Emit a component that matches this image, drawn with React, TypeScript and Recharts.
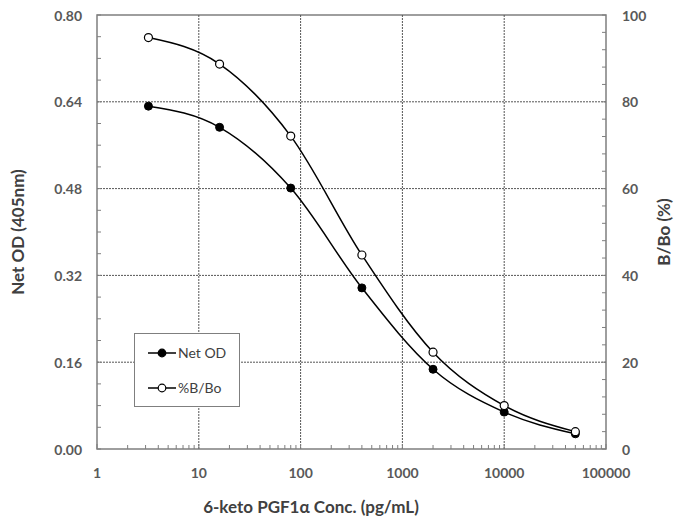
import { LineChart, Line, XAxis, YAxis, ReferenceLine, ReferenceArea, Label } from 'recharts';

const concentrations = [3.2, 16, 80, 400, 2000, 10000, 50000];
const netOd = [0.632, 0.593, 0.481, 0.297, 0.147, 0.068, 0.028];
const bBo = [94.8, 88.7, 72.1, 44.7, 22.3, 10.0, 4.0];

const xDecades = [1, 10, 100, 1000, 10000, 100000];
const xMinorSteps = [2, 3, 4, 5, 6, 7, 8, 9];
const leftTicks = [0, 0.04, 0.08, 0.12, 0.16, 0.2, 0.24, 0.28, 0.32, 0.36, 0.4, 0.44, 0.48, 0.52, 0.56, 0.6, 0.64, 0.68, 0.72, 0.76, 0.8];
const leftMajor = [0, 0.16, 0.32, 0.48, 0.64, 0.8];
const rightTicks = [0, 4, 8, 12, 16, 20, 24, 28, 32, 36, 40, 44, 48, 52, 56, 60, 64, 68, 72, 76, 80, 84, 88, 92, 96, 100];
const rightMajor = [0, 20, 40, 60, 80, 100];

const data = concentrations.map((conc, i) => ({ conc, netOd: netOd[i], bBo: bBo[i] }));
const xTicks = [
  ...xDecades,
  ...xDecades.slice(0, -1).flatMap((d) => xMinorSteps.map((s) => d * s)),
].sort((a, b) => a - b);

const FONT = 'Lato, "Open Sans", sans-serif';
const TICK_COLOR = '#595959';
const TITLE_COLOR = '#404040';
const FRAME = '#7f7f7f';
const GRID = '#555';

function XTick({ x, y, payload }: any) {
  const major = xDecades.includes(payload.value);
  return (
    <g>
      <line x1={x} x2={x} y1={y} y2={y - (major ? 5 : 4)} stroke={FRAME} />
      {major && (
        <text x={x} y={y + 23} textAnchor="middle" dominantBaseline="central"
          fontFamily={FONT} fontSize={14} fontWeight={700} fill={TICK_COLOR}>
          {payload.value}
        </text>
      )}
    </g>
  );
}

function LeftTick({ x, y, payload }: any) {
  const major = leftMajor.includes(payload.value);
  return (
    <g>
      <line x1={x} x2={x + 4} y1={y} y2={y} stroke={FRAME} />
      {major && (
        <text x={x - 15} y={y} textAnchor="end" dominantBaseline="central"
          fontFamily={FONT} fontSize={14} fontWeight={700} fill={TICK_COLOR}>
          {payload.value.toFixed(2)}
        </text>
      )}
    </g>
  );
}

function RightTick({ x, y, payload }: any) {
  const major = rightMajor.includes(payload.value);
  return (
    <g>
      <line x1={x} x2={x - 4} y1={y} y2={y} stroke={FRAME} />
      {major && (
        <text x={x + 16} y={y} textAnchor="start" dominantBaseline="central"
          fontFamily={FONT} fontSize={14} fontWeight={700} fill={TICK_COLOR}>
          {payload.value}
        </text>
      )}
    </g>
  );
}

function LegendBox() {
  const row = (label: string, fill: string) => (
    <div style={{ display: 'flex', alignItems: 'center', height: 18 }}>
      <svg width={30} height={12}>
        <line x1={1} x2={29} y1={6} y2={6} stroke="#000" strokeWidth={1.5} />
        <circle cx={15} cy={6} r={3.8} fill={fill} stroke="#000" strokeWidth={1.2} />
      </svg>
      <span style={{ fontFamily: FONT, fontSize: 14, color: TITLE_COLOR, marginLeft: 1 }}>{label}</span>
    </div>
  );
  return (
    <div
      style={{
        position: 'absolute', left: 134, top: 333, width: 92, height: 70,
        border: `1.5px solid ${FRAME}`, background: '#fff', boxSizing: 'content-box',
        display: 'flex', flexDirection: 'column', justifyContent: 'space-around',
        paddingLeft: 12, paddingTop: 1, paddingBottom: 1,
      }}
    >
      {row('Net OD', '#000')}
      {row('%B/Bo', '#fff')}
    </div>
  );
}

export default function App() {
  return (
    <div style={{ position: 'absolute', left: 0, top: 0, width: 677, height: 524, background: '#fff' }}>
      <LineChart width={677} height={524} data={data} margin={{ top: 15, right: 0, bottom: 0, left: 0 }}>
        <XAxis
          dataKey="conc" type="number" scale="log" domain={[1, 100000]} allowDataOverflow
          ticks={xTicks} interval={0} tickSize={0} tickMargin={0}
          axisLine={false} tickLine={false} tick={(p: any) => <XTick {...p} />} height={75}
        >
          <Label
            content={({ viewBox }: any) => (
              <text x={viewBox.x + 214} y={viewBox.y + 57} textAnchor="middle" dominantBaseline="central"
                fontFamily={FONT} fontSize={17} fontWeight={700} fill={TITLE_COLOR}>
                6-keto PGF1α Conc. (pg/mL)
              </text>
            )}
          />
        </XAxis>
        <YAxis
          yAxisId="left" type="number" domain={[0, 0.8]} ticks={leftTicks} interval={0}
          tickSize={0} tickMargin={0} axisLine={false} tickLine={false} width={97}
          tick={(p: any) => <LeftTick {...p} />}
        >
          <Label
            content={({ viewBox }: any) => {
              const cx = viewBox.x + 17;
              const cy = viewBox.y + viewBox.height / 2;
              return (
                <text x={cx} y={cy} transform={`rotate(-90 ${cx} ${cy})`} textAnchor="middle"
                  dominantBaseline="central" fontFamily={FONT} fontSize={17} fontWeight={700} fill={TITLE_COLOR}>
                  Net OD (405nm)
                </text>
              );
            }}
          />
        </YAxis>
        <YAxis
          yAxisId="right" orientation="right" type="number" domain={[0, 100]} ticks={rightTicks} interval={0}
          tickSize={0} tickMargin={0} axisLine={false} tickLine={false} width={71}
          tick={(p: any) => <RightTick {...p} />}
        >
          <Label
            content={({ viewBox }: any) => {
              const cx = viewBox.x + 57;
              const cy = viewBox.y + viewBox.height / 2;
              return (
                <text x={cx} y={cy} transform={`rotate(-90 ${cx} ${cy})`} textAnchor="middle"
                  dominantBaseline="central" fontFamily={FONT} fontSize={17} fontWeight={700} fill={TITLE_COLOR}>
                  B/Bo (%)
                </text>
              );
            }}
          />
        </YAxis>

        {xDecades.slice(1, -1).map((v) => (
          <ReferenceLine key={'x' + v} x={v} yAxisId="left" stroke={GRID} strokeDasharray="2 1" strokeWidth={1} />
        ))}
        {leftMajor.slice(1, -1).map((v) => (
          <ReferenceLine key={'y' + v} y={v} yAxisId="left" stroke={GRID} strokeDasharray="2 1" strokeWidth={1} />
        ))}
        <ReferenceArea x1={1} x2={100000} y1={0} y2={0.8} yAxisId="left" fill="none" stroke={FRAME} strokeWidth={1.5} />

        <Line
          type="monotone" dataKey="netOd" yAxisId="left" stroke="#000" strokeWidth={1.5}
          dot={{ r: 4, fill: '#000', stroke: '#000', strokeWidth: 1 }} isAnimationActive={false}
        />
        <Line
          type="monotone" dataKey="bBo" yAxisId="right" stroke="#000" strokeWidth={1.5}
          dot={{ r: 4, fill: '#fff', stroke: '#000', strokeWidth: 1.2 }} isAnimationActive={false}
        />
      </LineChart>
      <LegendBox />
    </div>
  );
}
